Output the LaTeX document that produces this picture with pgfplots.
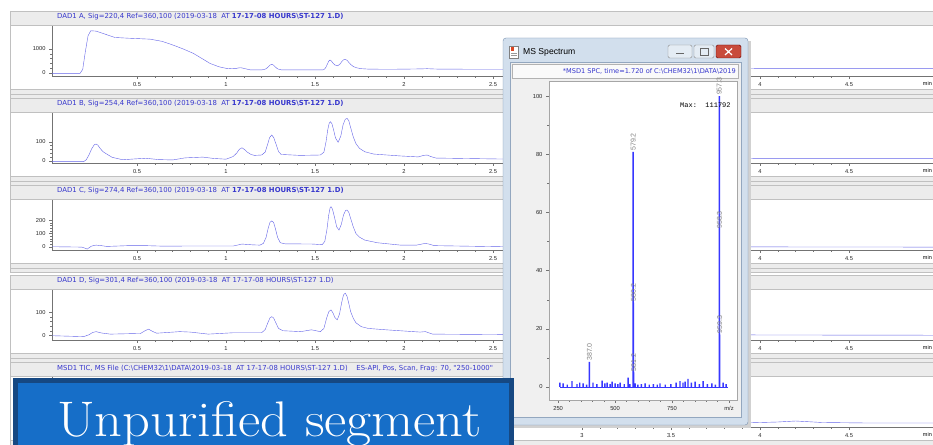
\documentclass[border=0pt]{standalone}
\usepackage{pgfplots}
\pgfplotsset{compat=1.18}
\usepackage{fontspec}
\newfontfamily\arial{Liberation Sans}
\newfontfamily\dejavu{DejaVu Sans}
\newfontfamily\mono{Liberation Mono}
\definecolor{trace}{RGB}{100,100,232}
\definecolor{ttl}{RGB}{55,55,205}
\definecolor{msblue}{RGB}{55,55,255}
\definecolor{band}{RGB}{236,236,236}
\definecolor{bandline}{RGB}{192,192,192}
\definecolor{boxblue}{RGB}{22,110,200}
\definecolor{boxedge}{RGB}{22,72,130}
\definecolor{frame}{RGB}{210,223,237}
\definecolor{frameedge}{RGB}{120,145,175}
\definecolor{client}{RGB}{240,240,240}
\definecolor{closered}{RGB}{200,75,60}

\pgfplotsset{
  chrom/.style={
    scale only axis, width=893pt, height=50pt,
    xmin=0.02247, xmax=5.0393,
    axis x line*=bottom, axis y line*=left,
    axis line style={-, draw=black!55, line width=0.4pt},
    xtick={0.5,1,1.5,2,2.5,3,3.5,4,4.5},
    xticklabels={0.5,1,1.5,2,2.5,3,3.5,4,4.5},
    minor x tick num=4,
    minor y tick num=4,
    tick align=outside,
    major tick length=3pt, minor tick length=1.6pt,
    every tick/.style={black!55, line width=0.35pt},
    tick label style={font=\arial\fontsize{5.7}{6}\selectfont, text=black!85},
    /pgf/number format/assume math mode=true,
    /pgf/number format/1000 sep={},
    no markers,
    cycle list={{trace, line width=1.4pt, smooth, tension=0.5, line join=round}},
  },
}
\tikzset{
  mau/.style={anchor=east, font=\arial\fontsize{5}{6}\selectfont, text=black!85, inner sep=0pt, xshift=-5pt},
  pk/.style={rotate=90, anchor=west, font=\arial\fontsize{7}{7}\selectfont, text=black!50, inner sep=1pt},
}

\begin{document}
\begin{tikzpicture}
\useasboundingbox (0,0) rectangle (933pt,444pt);
\clip (0,0) rectangle (933pt,444pt);

% ---------- background and panel bands (pixel coordinates, y down) ----------
\begin{scope}[x=1pt,y=-1pt,yshift=444pt]
  \fill[white] (0,0) rectangle (933,444);
  \foreach \L in {76,163,250,340,427} {
    \fill[band] (10,\L-65) rectangle (940,\L-51);
    \draw[bandline] (10,\L-65) -- (940,\L-65) (10,\L-51) -- (940,\L-51);
    \fill[band] (10,\L+13) rectangle (940,\L+22);
    \draw[bandline] (10,\L+13) -- (940,\L+13) (10,\L+18) -- (940,\L+18) (10,\L+22) -- (940,\L+22);
    \draw[bandline] (10,\L-65) -- (10,\L+22);
    \node[anchor=east, font=\arial\fontsize{5.5}{6}\selectfont, inner sep=0pt] at (932,\L+8) {min};
  }
  \tikzset{ttlstyle/.style={anchor=west, font=\dejavu\fontsize{6.9}{7}\selectfont, text=ttl, inner sep=0pt}}
  \node[ttlstyle] at (57,17) {DAD1 A, Sig=220,4 Ref=360,100 (2019-03-18\ \ AT {\bfseries 17-17-08 HOURS\textbackslash ST-127 1.D)}};
  \node[ttlstyle] at (57,104) {DAD1 B, Sig=254,4 Ref=360,100 (2019-03-18\ \ AT {\bfseries 17-17-08 HOURS\textbackslash ST-127 1.D)}};
  \node[ttlstyle] at (57,191) {DAD1 C, Sig=274,4 Ref=360,100 (2019-03-18\ \ AT {\bfseries 17-17-08 HOURS\textbackslash ST-127 1.D)}};
  \node[ttlstyle] at (57,281) {DAD1 D, Sig=301,4 Ref=360,100 (2019-03-18\ \ AT 17-17-08 HOURS\textbackslash ST-127 1.D)};
  \node[ttlstyle] at (57,369) {MSD1 TIC, MS File (C:\textbackslash CHEM32\textbackslash 1\textbackslash DATA\textbackslash 2019-03-18\ \ AT 17-17-08 HOURS\textbackslash ST-127 1.D)\ \ \ \ ES-API, Pos, Scan, Frag: 70, "250-1000"};
\end{scope}

% ---------- Panel A ----------
\begin{axis}[chrom, at={(52pt,368pt)}, anchor=south west, ymin=-125, ymax=1958, ytick={0,1000}]
\addplot coordinates {(0.02,-15) (0.18,-15) (0.195,150) (0.21,900) (0.225,1550) (0.24,1760) (0.27,1745) (0.32,1620) (0.376,1480) (0.45,1450) (0.573,1410) (0.64,1320) (0.70,1170) (0.76,1000) (0.816,820) (0.87,580) (0.91,400) (0.96,260) (1.0,195) (1.03,178) (1.05,180) (1.07,210) (1.08,220) (1.09,210) (1.11,175) (1.135,132) (1.203,132) (1.221,162) (1.23,205) (1.239,270) (1.248,332) (1.257,360) (1.266,332) (1.275,270) (1.284,205) (1.293,162) (1.311,132) (1.40,130) (1.545,130) (1.555,170) (1.562,250) (1.57,380) (1.577,490) (1.584,540) (1.592,500) (1.60,420) (1.61,340) (1.627,300) (1.64,370) (1.65,470) (1.66,550) (1.669,570) (1.68,530) (1.69,440) (1.70,360) (1.715,270) (1.734,215) (1.76,180) (1.8,162) (1.9,155) (2.0,160) (2.1,172) (2.13,180) (2.16,170) (2.2,160) (2.54,155) (3.0,170) (3.5,180) (4.0,190) (4.5,192) (5.1,192)};
\node[mau] at (rel axis cs:0,0.93) {mAU};
\end{axis}

% ---------- Panel B ----------
\begin{axis}[chrom, at={(52pt,281pt)}, anchor=south west, ymin=-12, ymax=251, ytick={0,100}]
\addplot coordinates {(0.02,-5) (0.2,-5) (0.215,5) (0.23,30) (0.245,62) (0.26,84) (0.27,88) (0.28,82) (0.295,62) (0.31,47) (0.33,35) (0.36,18) (0.42,5) (0.48,9) (0.55,13) (0.62,6) (0.70,4) (0.77,15) (0.87,19) (0.93,12) (1.0,8) (1.04,22) (1.06,40) (1.075,60) (1.09,68) (1.105,58) (1.12,45) (1.14,33) (1.16,28) (1.20,30) (1.22,45) (1.235,90) (1.245,122) (1.257,135) (1.268,122) (1.28,90) (1.295,48) (1.31,33) (1.416,28) (1.53,30) (1.55,45) (1.562,100) (1.572,165) (1.58,198) (1.587,205) (1.595,195) (1.605,160) (1.615,120) (1.63,97) (1.645,130) (1.658,190) (1.67,218) (1.68,223) (1.69,210) (1.70,175) (1.715,125) (1.73,90) (1.75,65) (1.78,47) (1.83,35) (1.98,25) (2.08,20) (2.11,28) (2.13,30) (2.15,22) (2.18,14) (2.54,9) (3.0,10) (4.0,12) (5.1,12)};
\node[mau] at (rel axis cs:0,0.9) {mAU};
\end{axis}

% ---------- Panel C ----------
\begin{axis}[chrom, at={(52pt,194pt)}, anchor=south west, ymin=-25, ymax=354, ytick={0,100,200}]
\addplot coordinates {(0.02,0) (0.19,-3) (0.205,-10) (0.22,-18) (0.245,5) (0.27,12) (0.30,8) (0.33,2) (0.45,8) (0.55,8) (0.65,4) (0.76,5) (1.04,5) (1.09,20) (1.15,14) (1.19,12) (1.21,25) (1.225,70) (1.237,140) (1.247,185) (1.257,195) (1.267,185) (1.277,140) (1.29,70) (1.305,30) (1.33,22) (1.49,20) (1.54,15) (1.555,40) (1.567,130) (1.577,240) (1.585,295) (1.59,303) (1.598,285) (1.61,220) (1.622,150) (1.635,126) (1.648,170) (1.66,240) (1.672,275) (1.68,278) (1.69,260) (1.70,215) (1.715,150) (1.73,100) (1.75,72) (1.78,50) (1.85,30) (1.98,12) (2.07,12) (2.1,20) (2.12,25) (2.14,20) (2.17,8) (2.54,0) (5.1,-3)};
\node[mau] at (rel axis cs:0,0.87) {mAU};
\end{axis}

% ---------- Panel D ----------
\begin{axis}[chrom, at={(52pt,104pt)}, anchor=south west, ymin=-21, ymax=200, ytick={0,100}]
\addplot coordinates {(0.02,-2) (0.2,-6) (0.23,2) (0.25,12) (0.27,16) (0.30,10) (0.35,5) (0.52,8) (0.545,20) (0.565,27) (0.585,18) (0.61,9) (0.74,16) (0.80,14) (0.9,5) (1.04,11) (1.2,11) (1.22,25) (1.235,55) (1.247,77) (1.257,82) (1.267,77) (1.28,55) (1.295,30) (1.32,20) (1.42,16) (1.48,24) (1.53,16) (1.55,30) (1.565,75) (1.578,105) (1.59,112) (1.60,100) (1.612,78) (1.625,68) (1.638,95) (1.65,145) (1.66,178) (1.67,186) (1.68,172) (1.69,140) (1.70,105) (1.715,75) (1.73,55) (1.76,38) (1.8,30) (1.9,24) (2.09,14) (2.12,16) (2.16,5) (2.54,3) (5.1,0)};
\node[mau] at (rel axis cs:0,0.92) {mAU};
\end{axis}

% ---------- Panel E (TIC) ----------
\begin{axis}[chrom, at={(52pt,17pt)}, anchor=south west, ymin=0, ymax=100, ytick=\empty,
  xtick={3,3.5,4,4.5}, xticklabels={3,3.5,4,4.5}]
\addplot coordinates {(0.02,5) (0.5,6) (1.0,7) (2.0,8) (3.0,8) (3.9,8) (4.1,10) (4.2,12) (4.35,9) (4.6,8) (5.1,8)};
\end{axis}

% ---------- MS Spectrum window ----------
\begin{scope}[x=1pt,y=-1pt,yshift=444pt]
  \fill[black!18] (506,41) rectangle (751,428);
  \draw[frameedge, fill=frame, rounded corners=3pt] (503,38) rectangle (748,425);
  \draw[frameedge!80, fill=client] (510,62) rectangle (741,417);
  \draw[black!30, fill=black!2] (512,64) rectangle (738,78);
  \begin{scope}
    \clip (513,64) rectangle (737,78);
    \node[anchor=east, font=\dejavu\fontsize{6.6}{7}\selectfont, text=ttl, inner sep=0pt] at (736,71.5) {*MSD1 SPC, time=1.720 of C:\textbackslash CHEM32\textbackslash 1\textbackslash DATA\textbackslash 2019};
  \end{scope}
  \draw[black!50, fill=white] (509,46) rectangle (518,58);
  \fill[red!45!brown] (510.5,47.5) rectangle (514,51);
  \draw[black!40] (511,53.5) -- (516.5,53.5) (511,55.5) -- (516.5,55.5);
  \node[anchor=west, font=\arial\fontsize{8.6}{9}\selectfont, inner sep=0pt] at (523,52.5) {MS Spectrum};
  \draw[black!45, fill=frame!60!white, rounded corners=1.5pt] (668,45) rectangle (692,58);
  \draw[black!60, line width=1pt] (676,54) -- (684,54);
  \draw[black!45, fill=frame!60!white, rounded corners=1.5pt] (694,45) rectangle (714,58);
  \draw[black!60, line width=0.6pt] (700,48.5) rectangle (708,55);
  \draw[red!40!black, fill=closered, rounded corners=1.5pt] (716,45) rectangle (741,58);
  \draw[white, line width=1.2pt] (725,48.5) -- (732,55) (725,55) -- (732,48.5);
\end{scope}

\begin{axis}[at={(549pt,44pt)}, anchor=south west, scale only axis, width=188pt, height=319pt,
  xmin=210, xmax=1035, ymin=-4.5, ymax=105.2,
  axis background/.style={fill=white},
  axis line style={draw=black!35, line width=0.4pt},
  tick pos=left, tick align=outside,
  major tick length=3pt, minor tick length=1.6pt,
  every tick/.style={black!55, line width=0.35pt},
  xtick={250,500,750,1000}, xticklabels={250,500,750,m/z},
  minor x tick num=4,
  ytick={0,20,40,60,80,100}, minor y tick num=1,
  tick label style={font=\arial\fontsize{5.8}{6}\selectfont, text=black!85},
  /pgf/number format/assume math mode=true,
  clip=false]
\addplot[draw=msblue, line width=0.7pt] coordinates {(258,0) (995,0)};
\addplot[ybar, bar width=1.4pt, bar shift=0pt, fill=msblue, draw=none, mark=none] coordinates {
(258,1.5) (272,1.2) (290,0.8) (311,2.0) (333,1.0) (345,1.5) (360,1.2) (375,0.8) (387,8.6) (403,1.5) (420,1.0) (443,2.2) (455,1.2) (465,1.5) (478,1.0) (487,1.8) (500,1.2) (512,1.0) (522,1.5) (540,1.0) (557,3.2) (565,1.0) (579.2,80.8) (580.2,29) (581.2,5) (588,1.2) (600,0.8) (615,1.0) (632,1.2) (650,0.8) (668,1.0) (685,0.8) (697,1.2) (720,0.8) (745,1.0) (768,1.5) (785,2.0) (798,1.5) (807,1.8) (820,2.8) (835,1.5) (851,1.8) (870,1.0) (886,2.0) (905,1.0) (925,1.2) (940,0.8) (957.3,100) (958.3,54) (959.3,18) (974,1.5) (987,1.0)};
\node[pk] at (axis cs:387,8.6) {387.0};
\node[pk] at (axis cs:579.2,80.8) {579.2};
\node[pk] at (axis cs:580.2,29) {580.2};
\node[pk] at (axis cs:581.2,5) {581.2};
\node[pk] at (axis cs:957.3,100) {957.3};
\node[pk] at (axis cs:958.3,54) {958.3};
\node[pk] at (axis cs:959.3,18) {959.3};
\node[anchor=east, font=\mono\fontsize{7}{7}\selectfont, inner sep=0pt] at (axis cs:1008,97) {Max:\ \ 111792};
\end{axis}

% ---------- Blue label box ----------
\begin{scope}[x=1pt,y=-1pt,yshift=444pt]
  \draw[boxedge, line width=5pt, fill=boxblue] (15.5,380.5) rectangle (511.5,470);
  \node[text=white, font=\fontsize{50}{50}\selectfont, anchor=base west, inner sep=0pt] at (57,436) {\scalebox{1.09}[1]{Unpurified segment}};
\end{scope}
\end{tikzpicture}
\end{document}
